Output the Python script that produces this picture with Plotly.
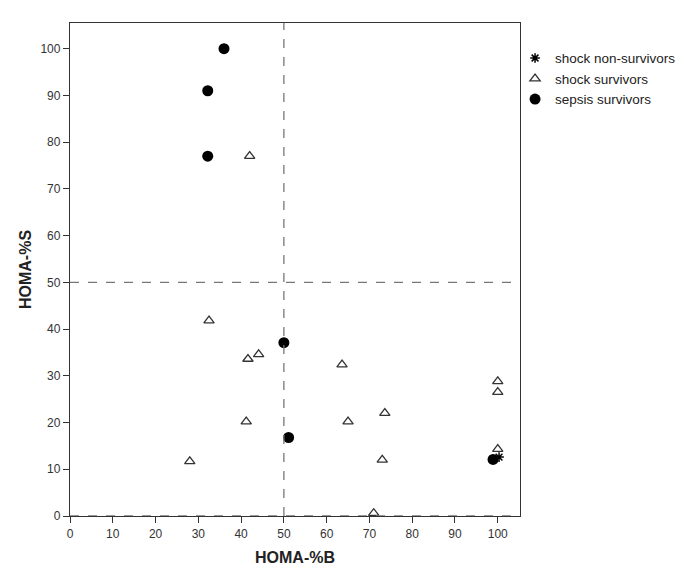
import plotly.graph_objects as go

# shock non-survivors
nonsurv_x = [100.3]
nonsurv_y = [12.6]

# shock survivors
shock_x = [42, 32.5, 41.6, 44.1, 63.6, 41.2, 65.0, 28.0, 73.6, 73.0, 71.0, 100, 100, 100]
shock_y = [77, 41.8, 33.6, 34.6, 32.4, 20.2, 20.2, 11.7, 22.0, 12.0, 0.6, 28.8, 26.5, 14.3]

# sepsis survivors
sepsis_x = [36, 32.2, 32.2, 50.0, 51.1, 98.9]
sepsis_y = [100, 91, 77, 37.1, 16.8, 12.1]

x_ticks = [0, 10, 20, 30, 40, 50, 60, 70, 80, 90, 100]
y_ticks = [0, 10, 20, 30, 40, 50, 60, 70, 80, 90, 100]

fig = go.Figure()

fig.add_trace(go.Scatter(
    x=nonsurv_x, y=nonsurv_y, mode="markers", name="shock non-survivors",
    marker=dict(symbol="asterisk-open", size=8, color="black",
                line=dict(color="black", width=1.5)),
))
fig.add_trace(go.Scatter(
    x=shock_x, y=shock_y, mode="markers", name="shock survivors",
    marker=dict(symbol="triangle-up-open", size=9, color="#333333",
                line=dict(color="#333333", width=1.3)),
))
fig.add_trace(go.Scatter(
    x=sepsis_x, y=sepsis_y, mode="markers", name="sepsis survivors",
    marker=dict(symbol="circle", size=11, color="black"),
))

dash_style = dict(color="#777777", width=1.3, dash="dash")
fig.add_shape(type="line", x0=50, x1=50, y0=0, y1=1, xref="x", yref="y domain", line=dash_style)
fig.add_shape(type="line", x0=0, x1=1, y0=50, y1=50, xref="x domain", yref="y", line=dash_style)
fig.add_shape(type="line", x0=0, x1=1, y0=0, y1=0, xref="x domain", yref="y", line=dash_style)

fig.update_layout(
    width=685, height=571,
    margin=dict(l=62, r=158, t=15, b=63),
    paper_bgcolor="white", plot_bgcolor="white",
    font=dict(family="Liberation Sans, Arial, sans-serif", size=12, color="#333333"),
    showlegend=True,
    legend=dict(x=0.989, y=0.96, xanchor="left", yanchor="top",
                font=dict(size=13.5, color="#222222"), itemsizing="trace",
                tracegroupgap=0, bgcolor="rgba(0,0,0,0)"),
    xaxis=dict(range=[0, 105.2], tickvals=x_ticks, showgrid=False, zeroline=False,
               automargin=False,
               showline=True, linecolor="#333333", linewidth=1.3, mirror=True,
               ticks="outside", ticklen=6, tickcolor="#333333",
               title=dict(text="<b>HOMA-%B</b>", font=dict(size=16, color="#222222"), standoff=12)),
    yaxis=dict(range=[0, 105.5], tickvals=y_ticks, showgrid=False, zeroline=False,
               automargin=False,
               showline=True, linecolor="#333333", linewidth=1.3, mirror=True,
               ticks="outside", ticklen=6, tickcolor="#333333",
               title=dict(text="<b>HOMA-%S</b>", font=dict(size=16, color="#222222"), standoff=4)),
)

fig.write_html("out.html")
